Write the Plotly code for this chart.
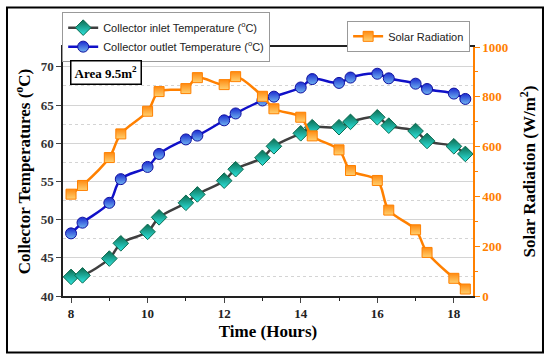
import plotly.graph_objects as go

time = [8, 8.3, 9, 9.3, 10, 10.3, 11, 11.3, 12, 12.3, 13, 13.3, 14, 14.3, 15, 15.3, 16, 16.3, 17, 17.3, 18, 18.3]
inlet = [42.5, 42.7, 44.9, 46.9, 48.4, 50.3, 52.2, 53.3, 55.1, 56.6, 58.1, 59.6, 61.3, 62.1, 62.1, 62.8, 63.4, 62.3, 61.6, 60.3, 59.6, 58.6]
outlet = [48.2, 49.6, 52.2, 55.3, 56.9, 58.6, 60.5, 61.0, 63.0, 63.9, 65.6, 66.1, 67.3, 68.4, 67.9, 68.6, 69.1, 68.5, 67.8, 67.1, 66.5, 65.8]
solar = [409, 444, 556, 651, 742, 821, 833, 877, 849, 881, 802, 752, 718, 643, 587, 504, 464, 345, 266, 175, 71, 28]

serif = "Liberation Serif"
sans = "Liberation Sans"

fig = go.Figure()
fig.add_trace(go.Scatter(
    x=time, y=inlet, name="Collector inlet Temperature (<sup>o</sup>C)",
    mode="lines+markers", line=dict(color="#3f3f3f", width=2.5, shape="spline"),
    marker=dict(symbol="diamond", size=12, color="#0b6b50",
                gradient=dict(type="vertical", color="#2ee6e0"),
                line=dict(color="#0b6b50", width=1)),
    legend="legend"))
fig.add_trace(go.Scatter(
    x=time, y=outlet, name="Collector outlet Temperature (<sup>o</sup>C)",
    mode="lines+markers", line=dict(color="#1010c8", width=2.5, shape="spline"),
    marker=dict(symbol="circle", size=11, color="#1a2ad0",
                gradient=dict(type="vertical", color="#6fb4f0"),
                line=dict(color="#1010a0", width=1)),
    legend="legend"))
fig.add_trace(go.Scatter(
    x=time, y=solar, name="Solar Radiation", yaxis="y2",
    mode="lines+markers", line=dict(color="#ff8000", width=2.5, shape="spline"),
    marker=dict(symbol="square", size=10, color="#ff8a10",
                gradient=dict(type="vertical", color="#ffd070"),
                line=dict(color="#ff8000", width=1)),
    legend="legend2"))

fig.update_layout(
    width=550, height=361,
    margin=dict(l=63, r=77, t=45, b=65),
    paper_bgcolor="white", plot_bgcolor="white",
    showlegend=True,
    xaxis=dict(range=[7.79, 18.5], dtick=2, tick0=8, ticks="outside", ticklen=5,
               showline=True, linecolor="#222", linewidth=1.5, mirror=True,
               showgrid=False, zeroline=False,
               minor=dict(dtick=1, ticks="outside", ticklen=3, tickcolor="#222"),
               tickfont=dict(family=serif, size=13, color="#222", weight="bold"),
               title=dict(text="<b>Time (Hours)</b>", font=dict(family=serif, size=17, color="black"), standoff=5)),
    yaxis=dict(range=[40, 72.6], dtick=5, tick0=40, ticks="outside", ticklen=5,
               showline=True, linecolor="#222", linewidth=1.5,
               showgrid=True, gridcolor="#d4d4d4", gridwidth=1, zeroline=False,
               minor=dict(dtick=2.5, showgrid=True, gridcolor="#d4d4d4", griddash="dot", ticks=""),
               tickfont=dict(family=serif, size=13, color="#333", weight="bold"),
               title=dict(text="<b>Collector Temperatures (<sup>o</sup>C)</b>", font=dict(family=serif, size=17, color="black"), standoff=6)),
    yaxis2=dict(range=[0, 1000], dtick=200, overlaying="y", side="right", ticks="outside", ticklen=5,
                showline=True, linecolor="#ff8000", linewidth=1.5, tickcolor="#ff8000",
                showgrid=False, zeroline=False,
                minor=dict(dtick=100, ticks="outside", ticklen=3, tickcolor="#ff8000"),
                tickfont=dict(family=serif, size=13, color="#ff8000", weight="bold"),
                title=dict(text="<b>Solar Radiation (W/m<sup>2</sup>)</b>", font=dict(family=serif, size=17, color="black"), standoff=16)),
    legend=dict(x=-0.002, y=1.14, xanchor="left", yanchor="top", bgcolor="white",
                bordercolor="#999", borderwidth=1, font=dict(family=sans, size=11, color="#222"),
                tracegroupgap=0, itemwidth=30),
    legend2=dict(x=0.993, y=1.105, xanchor="right", yanchor="top", bgcolor="white",
                 bordercolor="#999", borderwidth=1, font=dict(family=sans, size=11, color="#222"),
                 itemwidth=30),
    annotations=[dict(text="<b>Area 9.5m<sup>2</sup></b>", xref="paper", yref="paper",
                      x=0.017, y=0.948, xanchor="left", yanchor="top", showarrow=False,
                      font=dict(family=serif, size=13, color="black"),
                      bordercolor="black", borderwidth=1.5, borderpad=3, bgcolor="white")],
    shapes=[dict(type="rect", xref="paper", yref="paper", x0=-0.1366, x1=1.1707, y0=-0.227, y1=1.159,
                 line=dict(color="black", width=2), layer="below")],
)

fig.write_html("out.html", config={"displayModeBar": False},
               post_script="document.body.style.margin='0px';document.body.style.overflow='hidden';")
